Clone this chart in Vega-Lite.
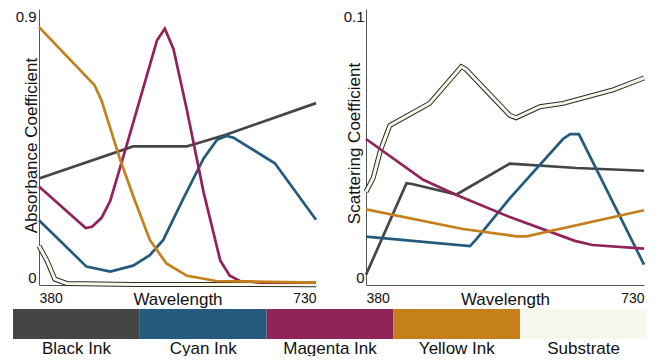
{
  "$schema": "https://vega.github.io/schema/vega-lite/v6.json",
  "background": "white",
  "padding": {"left": 13, "top": 9, "right": 0, "bottom": 0},
  "config": {
    "view": {"stroke": null},
    "font": "Liberation Sans",
    "axis": {
      "grid": false, "ticks": false, "tickSize": 0,
      "domainColor": "#555555", "domainWidth": 1,
      "labelFont": "Liberation Sans", "labelFontSize": 14, "labelColor": "#111111",
      "titleFont": "Liberation Sans", "titleFontSize": 17, "titleFontWeight": "normal", "titleColor": "#111111"
    }
  },
  "datasets": {
    "absorb": [
      {"ink": "Black Ink", "wl": 380, "v": 0.347},
      {"ink": "Black Ink", "wl": 499, "v": 0.452},
      {"ink": "Black Ink", "wl": 567, "v": 0.452},
      {"ink": "Black Ink", "wl": 575, "v": 0.458},
      {"ink": "Black Ink", "wl": 617, "v": 0.491},
      {"ink": "Black Ink", "wl": 730, "v": 0.593},
      {"ink": "Cyan Ink", "wl": 380, "v": 0.211},
      {"ink": "Cyan Ink", "wl": 440, "v": 0.06},
      {"ink": "Cyan Ink", "wl": 470, "v": 0.044},
      {"ink": "Cyan Ink", "wl": 499, "v": 0.063},
      {"ink": "Cyan Ink", "wl": 520, "v": 0.097},
      {"ink": "Cyan Ink", "wl": 537, "v": 0.147},
      {"ink": "Cyan Ink", "wl": 562, "v": 0.28},
      {"ink": "Cyan Ink", "wl": 588, "v": 0.413},
      {"ink": "Cyan Ink", "wl": 605, "v": 0.474},
      {"ink": "Cyan Ink", "wl": 617, "v": 0.486},
      {"ink": "Cyan Ink", "wl": 626, "v": 0.48},
      {"ink": "Cyan Ink", "wl": 678, "v": 0.397},
      {"ink": "Cyan Ink", "wl": 730, "v": 0.213},
      {"ink": "Magenta Ink", "wl": 380, "v": 0.321},
      {"ink": "Magenta Ink", "wl": 439, "v": 0.186},
      {"ink": "Magenta Ink", "wl": 447, "v": 0.19},
      {"ink": "Magenta Ink", "wl": 459, "v": 0.219},
      {"ink": "Magenta Ink", "wl": 470, "v": 0.274},
      {"ink": "Magenta Ink", "wl": 491, "v": 0.458},
      {"ink": "Magenta Ink", "wl": 529, "v": 0.797},
      {"ink": "Magenta Ink", "wl": 539, "v": 0.836},
      {"ink": "Magenta Ink", "wl": 550, "v": 0.769},
      {"ink": "Magenta Ink", "wl": 567, "v": 0.569},
      {"ink": "Magenta Ink", "wl": 588, "v": 0.302},
      {"ink": "Magenta Ink", "wl": 609, "v": 0.08},
      {"ink": "Magenta Ink", "wl": 621, "v": 0.03},
      {"ink": "Magenta Ink", "wl": 634, "v": 0.013},
      {"ink": "Magenta Ink", "wl": 660, "v": 0.008},
      {"ink": "Magenta Ink", "wl": 730, "v": 0.008},
      {"ink": "Yellow Ink", "wl": 380, "v": 0.841},
      {"ink": "Yellow Ink", "wl": 450, "v": 0.652},
      {"ink": "Yellow Ink", "wl": 459, "v": 0.602},
      {"ink": "Yellow Ink", "wl": 482, "v": 0.413},
      {"ink": "Yellow Ink", "wl": 499, "v": 0.29},
      {"ink": "Yellow Ink", "wl": 520, "v": 0.147},
      {"ink": "Yellow Ink", "wl": 541, "v": 0.07},
      {"ink": "Yellow Ink", "wl": 567, "v": 0.03},
      {"ink": "Yellow Ink", "wl": 604, "v": 0.013},
      {"ink": "Yellow Ink", "wl": 730, "v": 0.008},
      {"ink": "Substrate", "wl": 380, "v": 0.127},
      {"ink": "Substrate", "wl": 390, "v": 0.08},
      {"ink": "Substrate", "wl": 400, "v": 0.019},
      {"ink": "Substrate", "wl": 415, "v": 0.005},
      {"ink": "Substrate", "wl": 500, "v": 0.002},
      {"ink": "Substrate", "wl": 730, "v": 0.001}
    ],
    "scatter": [
      {"ink": "Black Ink", "wl": 380, "v": 0.0037},
      {"ink": "Black Ink", "wl": 431, "v": 0.0369},
      {"ink": "Black Ink", "wl": 438, "v": 0.0366},
      {"ink": "Black Ink", "wl": 494, "v": 0.0328},
      {"ink": "Black Ink", "wl": 561, "v": 0.044},
      {"ink": "Black Ink", "wl": 645, "v": 0.0424},
      {"ink": "Black Ink", "wl": 730, "v": 0.0414},
      {"ink": "Cyan Ink", "wl": 380, "v": 0.0175},
      {"ink": "Cyan Ink", "wl": 511, "v": 0.0141},
      {"ink": "Cyan Ink", "wl": 519, "v": 0.0166},
      {"ink": "Cyan Ink", "wl": 561, "v": 0.0314},
      {"ink": "Cyan Ink", "wl": 628, "v": 0.0529},
      {"ink": "Cyan Ink", "wl": 637, "v": 0.0547},
      {"ink": "Cyan Ink", "wl": 648, "v": 0.0547},
      {"ink": "Cyan Ink", "wl": 730, "v": 0.0074},
      {"ink": "Magenta Ink", "wl": 380, "v": 0.0529},
      {"ink": "Magenta Ink", "wl": 452, "v": 0.0381},
      {"ink": "Magenta Ink", "wl": 494, "v": 0.0326},
      {"ink": "Magenta Ink", "wl": 561, "v": 0.0246},
      {"ink": "Magenta Ink", "wl": 643, "v": 0.016},
      {"ink": "Magenta Ink", "wl": 665, "v": 0.0145},
      {"ink": "Magenta Ink", "wl": 730, "v": 0.0132},
      {"ink": "Yellow Ink", "wl": 380, "v": 0.0274},
      {"ink": "Yellow Ink", "wl": 502, "v": 0.0203},
      {"ink": "Yellow Ink", "wl": 570, "v": 0.0176},
      {"ink": "Yellow Ink", "wl": 582, "v": 0.0176},
      {"ink": "Yellow Ink", "wl": 730, "v": 0.0271},
      {"ink": "Substrate", "wl": 380, "v": 0.0338},
      {"ink": "Substrate", "wl": 389, "v": 0.0387},
      {"ink": "Substrate", "wl": 398, "v": 0.0486},
      {"ink": "Substrate", "wl": 410, "v": 0.0578},
      {"ink": "Substrate", "wl": 460, "v": 0.0658},
      {"ink": "Substrate", "wl": 500, "v": 0.0791},
      {"ink": "Substrate", "wl": 506, "v": 0.0781},
      {"ink": "Substrate", "wl": 561, "v": 0.0615},
      {"ink": "Substrate", "wl": 569, "v": 0.0606},
      {"ink": "Substrate", "wl": 599, "v": 0.0646},
      {"ink": "Substrate", "wl": 628, "v": 0.0658},
      {"ink": "Substrate", "wl": 691, "v": 0.0707},
      {"ink": "Substrate", "wl": 730, "v": 0.075}
    ],
    "inks": [
      {"ink": "Black Ink"}, {"ink": "Cyan Ink"}, {"ink": "Magenta Ink"}, {"ink": "Yellow Ink"}, {"ink": "Substrate"}
    ]
  },
  "align": "none",
  "spacing": 2,
  "vconcat": [
    {
      "hconcat": [
        {
          "width": 277, "height": 276,
          "data": {"name": "absorb"},
          "encoding": {
            "x": {"field": "wl", "type": "quantitative",
                  "scale": {"domain": [380, 730], "nice": false, "zero": false},
                  "axis": {"values": [380, 730], "labelFlush": true, "labelPadding": 6, "title": "Wavelength", "titleY": 6, "titleBaseline": "top"}},
            "y": {"field": "v", "type": "quantitative",
                  "scale": {"domain": [0, 0.9], "nice": false},
                  "axis": {"values": [0, 0.9], "format": ".1~f", "labelFontSize": 15, "labelFlush": true, "labelPadding": 3, "title": "Absorbance Coefficient", "titleX": -3, "titleY": 136, "titleAngle": -90, "titleBaseline": "alphabetic", "titleAlign": "center"}}
          },
          "layer": [
            {"transform": [{"filter": "datum.ink === 'Substrate'"}],
             "mark": {"type": "line", "color": "#2a2a2a", "strokeWidth": 5}},
            {"transform": [{"filter": "datum.ink === 'Substrate'"}],
             "mark": {"type": "line", "color": "#f8f8e6", "strokeWidth": 3}},
            {"transform": [{"filter": "datum.ink !== 'Substrate'"}],
             "mark": {"type": "line", "strokeWidth": 2.7},
             "encoding": {"color": {"field": "ink", "type": "nominal", "legend": null,
               "scale": {"domain": ["Black Ink", "Cyan Ink", "Magenta Ink", "Yellow Ink", "Substrate"], "range": ["#454545", "#245a7e", "#92235a", "#c57f1b", "#f7f8ec"]}}}}
          ]
        },
        {
          "width": 278, "height": 276,
          "data": {"name": "scatter"},
          "encoding": {
            "x": {"field": "wl", "type": "quantitative",
                  "scale": {"domain": [380, 730], "nice": false, "zero": false},
                  "axis": {"values": [380, 730], "labelFlush": true, "labelPadding": 6, "title": "Wavelength", "titleY": 6, "titleBaseline": "top"}},
            "y": {"field": "v", "type": "quantitative",
                  "scale": {"domain": [0, 0.1], "nice": false},
                  "axis": {"values": [0, 0.1], "format": ".1~f", "labelFontSize": 15, "labelFlush": true, "labelPadding": 2, "title": "Scattering Coefficient", "titleX": -7, "titleY": 134, "titleAngle": -90, "titleBaseline": "alphabetic", "titleAlign": "center"}}
          },
          "layer": [
            {"transform": [{"filter": "datum.ink === 'Substrate'"}],
             "mark": {"type": "line", "color": "#2a2a2a", "strokeWidth": 5}},
            {"transform": [{"filter": "datum.ink === 'Substrate'"}],
             "mark": {"type": "line", "color": "#f8f8e6", "strokeWidth": 3}},
            {"transform": [{"filter": "datum.ink !== 'Substrate'"}],
             "mark": {"type": "line", "strokeWidth": 2.7},
             "encoding": {"color": {"field": "ink", "type": "nominal", "legend": null,
               "scale": {"domain": ["Black Ink", "Cyan Ink", "Magenta Ink", "Yellow Ink", "Substrate"], "range": ["#454545", "#245a7e", "#92235a", "#c57f1b", "#f7f8ec"]}}}}
          ]
        }
      ],
      "spacing": 50,
      "bounds": "flush"
    },
    {
      "width": 608, "height": 30,
      "data": {"name": "inks"},
      "mark": {"type": "rect"},
      "encoding": {
        "x": {"field": "ink", "type": "nominal", "sort": null,
              "scale": {"paddingInner": 0, "paddingOuter": 0, "range": [-26, 608]},
              "axis": {"title": null, "domain": false, "labelAngle": 0, "labelFontSize": 17, "labelPadding": 1, "labelColor": "#111111"}},
        "color": {"field": "ink", "type": "nominal", "legend": null,
          "scale": {"domain": ["Black Ink", "Cyan Ink", "Magenta Ink", "Yellow Ink", "Substrate"], "range": ["#454545", "#245a7e", "#92235a", "#c57f1b", "#f7f8ec"]}}
      }
    }
  ]
}
